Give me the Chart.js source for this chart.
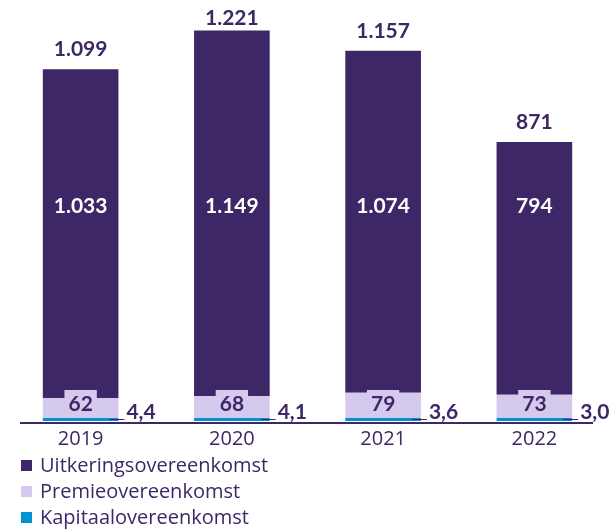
<!DOCTYPE html>
<html lang="nl">
  <head>
    <meta charset="UTF-8" />
    <title>Pensioenovereenkomsten</title>
    <style>
      body {
        margin: 0;
        background: #fff;
      }
    </style>
  </head>
  <body>
    <canvas id="myChart" width="613" height="530"></canvas>
    <script src="https://cdn.jsdelivr.net/npm/chart.js@4/dist/chart.umd.min.js"></script>
    <script>
      const categories = ["2019", "2020", "2021", "2022"];
      const uitkering = [1033, 1149, 1074, 794];
      const premie = [62, 68, 79, 73];
      const kapitaal = [4.4, 4.1, 3.6, 3.0];
      const totals = [1099, 1221, 1157, 871];

      const DARK = "#3d2766";
      const LAVENDER = "#d5caee";
      const BLUE = "#0094d4";
      const FONT = "Lato, 'DejaVu Sans', sans-serif";
      const TEXT_FONT = "'Open Sans', 'DejaVu Sans', sans-serif";

      // dutch style numbers: 1.033 and 4,4
      function fmt(v, decimals) {
        const parts = v.toFixed(decimals).split(".");
        parts[0] = parts[0].replace(/\B(?=(\d{3})+(?!\d))/g, ".");
        return parts.join(",");
      }

      const labelsPlugin = {
        id: "labels",
        afterDatasetsDraw(chart) {
          const ctx = chart.ctx;
          const y = chart.scales.y;
          const base = y.getPixelForValue(0);
          const kapMeta = chart.getDatasetMeta(0);
          const preMeta = chart.getDatasetMeta(1);
          const uitMeta = chart.getDatasetMeta(2);
          ctx.save();
          ctx.textAlign = "center";
          ctx.textBaseline = "middle";
          ctx.font = "bold 21px " + FONT;

          categories.forEach((c, i) => {
            const bar = uitMeta.data[i];
            const half = bar.width / 2;

            // total above the stack
            ctx.fillStyle = DARK;
            ctx.fillText(fmt(totals[i], 0), bar.x, Math.max(bar.y - 20, 18));

            // uitkering inside the dark bar
            ctx.fillStyle = "#fff";
            ctx.fillText(fmt(uitkering[i], 0), bar.x, y.getPixelForValue(675));

            // premie with its own little box
            const pBar = preMeta.data[i];
            const pt = fmt(premie[i], 0);
            const w = ctx.measureText(pt).width + 8;
            const ly = base - 17;
            ctx.fillStyle = LAVENDER;
            ctx.fillRect(pBar.x - w / 2, ly - 14, w, base - ly + 11);
            ctx.fillStyle = DARK;
            ctx.fillText(pt, pBar.x, ly);

            // kapitaal next to the bar with a leader line
            const kBar = kapMeta.data[i];
            const right = kBar.x + half;
            ctx.strokeStyle = DARK;
            ctx.lineWidth = 1;
            ctx.beginPath();
            ctx.moveTo(right - 9, base - 1.5);
            ctx.lineTo(right + 6, base - 1.5);
            ctx.stroke();
            ctx.textAlign = "left";
            ctx.fillText(fmt(kapitaal[i], 1), right + 8, base - 9);
            ctx.textAlign = "center";
          });

          // baseline
          ctx.strokeStyle = DARK;
          ctx.lineWidth = 2;
          ctx.beginPath();
          ctx.moveTo(20, base + 2);
          ctx.lineTo(593, base + 2);
          ctx.stroke();

          // legend, stacked vertically
          ctx.textAlign = "left";
          ctx.font = "20px " + TEXT_FONT;
          const items = chart.data.datasets.slice().reverse();
          items.forEach((ds, k) => {
            const cy = 466 + k * 26;
            ctx.fillStyle = ds.backgroundColor;
            ctx.fillRect(21, cy - 6, 11, 11);
            ctx.fillStyle = DARK;
            ctx.fillText(ds.label, 40, cy);
          });
          ctx.restore();
        },
      };

      new Chart(document.getElementById("myChart"), {
        type: "bar",
        data: {
          labels: categories,
          datasets: [
            {
              label: "Kapitaalovereenkomst",
              data: kapitaal,
              backgroundColor: BLUE,
              minBarLength: 3,
            },
            {
              label: "Premieovereenkomst",
              data: premie,
              backgroundColor: LAVENDER,
            },
            {
              label: "Uitkeringsovereenkomst",
              data: uitkering,
              backgroundColor: DARK,
            },
          ],
        },
        options: {
          responsive: false,
          animation: false,
          layout: {
            padding: { left: 5, right: 3, top: 7, bottom: 73 },
          },
          datasets: {
            bar: {
              barPercentage: 0.5,
              categoryPercentage: 1,
              borderWidth: 0,
            },
          },
          scales: {
            x: {
              stacked: true,
              grid: { display: false, drawTicks: false },
              border: { display: false },
              ticks: {
                padding: 6,
                color: DARK,
                font: { family: TEXT_FONT, size: 20 },
              },
            },
            y: {
              stacked: true,
              display: false,
              min: 0,
              max: 1300,
            },
          },
          plugins: {
            legend: { display: false },
            tooltip: { enabled: false },
          },
        },
        plugins: [labelsPlugin],
      });
    </script>
  </body>
</html>
